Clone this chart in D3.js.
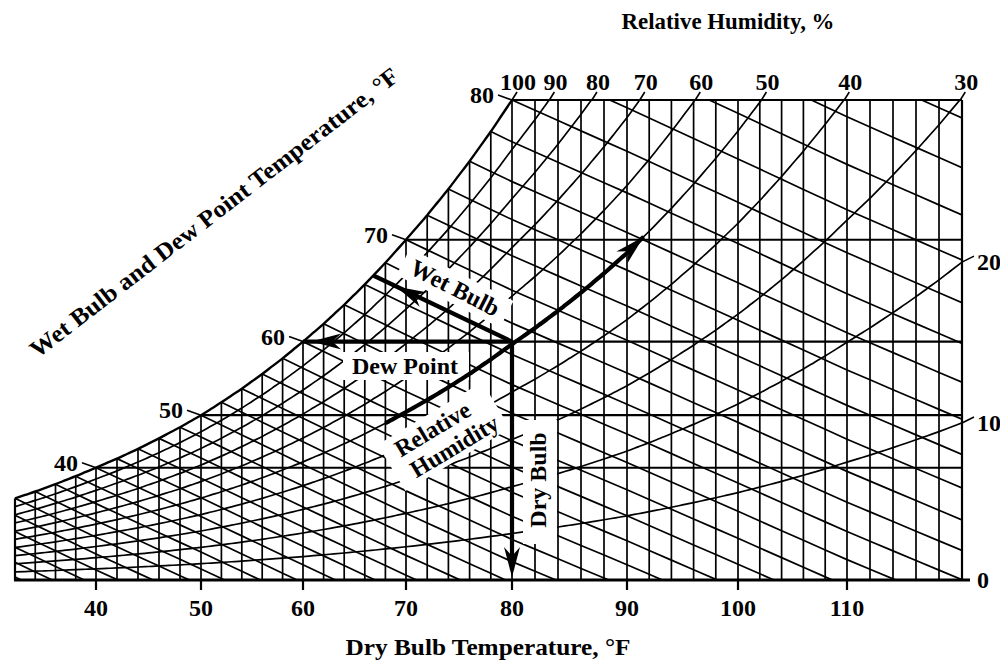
<!DOCTYPE html>
<html>
<head>
<meta charset="utf-8">
<script src="https://cdn.jsdelivr.net/npm/d3@7"></script>
<style>
    body { margin: 0; background: #fff; }
    text { font-family: "Liberation Serif", "Times New Roman", serif; font-weight: bold; fill: #000; }
</style>
</head>
<body>
<svg id="chart" width="1000" height="661"></svg>
<script>
// Saturation table: dry bulb (°F) and saturation vapour pressure (kPa), ice below 32 °F
const satTemps = [20, 22, 24, 26, 28, 30, 32, 34, 36, 38, 40, 42, 44, 46, 48, 50, 52, 54, 56, 58, 60,
    62, 64, 66, 68, 70, 72, 74, 76, 78, 80, 82, 84, 86, 88, 90, 92, 94, 96, 98, 100,
    102, 104, 106, 108, 110, 112, 114, 116, 118, 120];
const satPressure = [0.3481, 0.3831, 0.4212, 0.4628, 0.5082, 0.5575, 0.6109, 0.6620, 0.7167, 0.7755, 0.8384,
    0.9059, 0.9781, 1.0553, 1.1378, 1.2261, 1.3202, 1.4207, 1.5279, 1.6420, 1.7638,
    1.8933, 2.0311, 2.1777, 2.3335, 2.4989, 2.6745, 2.8609, 3.0584, 3.2680, 3.4899,
    3.7248, 3.9736, 4.2366, 4.5147, 4.8087, 5.1192, 5.4469, 5.7932, 6.1582, 6.5426,
    6.9482, 7.3752, 7.8244, 8.2976, 8.7953, 9.3187, 9.8692, 10.447, 11.054, 11.692];

const dryBulbTicks = [40, 50, 60, 70, 80, 90, 100, 110];
const dryBulbGrid = d3.range(34, 120, 2);
const wetBulbGrid = d3.range(20, 90, 2);
const dewPointLines = [40, 50, 60, 70];
const saturationLabels = [40, 50, 60, 70, 80];
const rhCurves = [0.1, 0.2, 0.3, 0.4, 0.5, 0.6, 0.7, 0.8, 0.9];
const rhTopLabels = [100, 90, 80, 70, 60, 50, 40, 30];
const rhRightLabels = [20, 10, 0];
const statePoint = { dryBulb: 80, dewPoint: 60, rh: 0.5 };

const svg = d3.select('#chart');

const pws = d3.scaleLinear().domain(satTemps).range(satPressure);
function humidityRatio(t, rh) {
    const p = rh * pws(t);
    return 0.622 * p / (101.325 - p);
}
function wetBulbRatio(tw, t) {
    return ((1093 - 0.556 * tw) * humidityRatio(tw, 1) - 0.240 * (t - tw)) / (1093 + 0.444 * t - tw);
}

const wTop = humidityRatio(80, 1);

const x = d3.scaleLinear()
    .domain([32, 40, 50, 60, 70, 80, 90, 100, 110, 120])
    .range([15, 96, 201, 303, 406, 512, 627, 738, 847, 962]);
const y = d3.scaleLinear().domain([0, wTop]).range([580, 100]);

const line = d3.line();
const smooth = d3.line().curve(d3.curveMonotoneX);

// plot area: under the saturation curve, inside the frame
const satPoints = d3.range(32, 80.01, 1).map(t => [x(t), y(humidityRatio(t, 1))]);
const areaPoints = satPoints.concat([[x(120), y(wTop)], [x(120), y(0)], [x(32), y(0)]]);

svg.append('defs').append('clipPath').attr('id', 'plot-area')
    .append('path').attr('d', line(areaPoints) + 'Z');

const grid = svg.append('g')
    .attr('clip-path', 'url(#plot-area)')
    .attr('fill', 'none')
    .attr('stroke', '#000')
    .attr('stroke-width', 1.7);

// dry bulb lines
grid.selectAll('.db').data(dryBulbGrid).enter().append('line')
    .attr('x1', d => x(d)).attr('x2', d => x(d))
    .attr('y1', y(0)).attr('y2', d => y(Math.min(humidityRatio(d, 1), wTop)));

// relative humidity curves
grid.selectAll('.rh').data(rhCurves).enter().append('path')
    .attr('d', rh => smooth(d3.range(32, 120.01, 1).map(t => [x(t), y(humidityRatio(t, rh))])));

// wet bulb lines
grid.selectAll('.wb').data(wetBulbGrid).enter().append('path')
    .attr('d', tw => line(d3.range(tw, 131, 2).map(t => [x(t), y(wetBulbRatio(tw, t))])));

// dew point lines
grid.selectAll('.dp').data(dewPointLines).enter().append('line')
    .attr('stroke-width', 2.2)
    .attr('x1', d => x(d)).attr('x2', x(120))
    .attr('y1', d => y(humidityRatio(d, 1))).attr('y2', d => y(humidityRatio(d, 1)));

// white boxes behind the annotations
const boxes = svg.append('g').attr('fill', '#fff');
boxes.append('rect').attr('transform', 'translate(455,288) rotate(27)')
    .attr('x', -58).attr('y', -15).attr('width', 116).attr('height', 30);
boxes.append('rect').attr('x', 343).attr('y', 352).attr('width', 126).attr('height', 28);
boxes.append('rect').attr('transform', 'translate(443,437) rotate(-31)')
    .attr('x', -60).attr('y', -27).attr('width', 122).attr('height', 54);
boxes.append('rect').attr('x', 523).attr('y', 420).attr('width', 34).attr('height', 124);

// frame
const frame = svg.append('g').attr('fill', 'none').attr('stroke', '#000');
frame.append('path').attr('stroke-width', 2.4).attr('d', smooth(satPoints));
frame.append('line').attr('stroke-width', 2.2)
    .attr('x1', x(80)).attr('x2', x(120)).attr('y1', y(wTop)).attr('y2', y(wTop));
frame.append('line').attr('stroke-width', 2.2)
    .attr('x1', x(120)).attr('x2', x(120)).attr('y1', y(wTop)).attr('y2', y(0));
frame.append('line').attr('stroke-width', 2.2)
    .attr('x1', x(32)).attr('x2', x(32)).attr('y1', y(humidityRatio(32, 1))).attr('y2', y(0));
frame.append('line').attr('stroke-width', 3)
    .attr('x1', x(32) - 1).attr('x2', x(120) + 8).attr('y1', y(0)).attr('y2', y(0));

// dry bulb axis
svg.selectAll('.tick').data(dryBulbTicks).enter().append('line')
    .attr('stroke', '#000').attr('stroke-width', 2.2)
    .attr('x1', d => x(d)).attr('x2', d => x(d))
    .attr('y1', y(0)).attr('y2', y(0) + 10);
svg.selectAll('.tick-label').data(dryBulbTicks).enter().append('text')
    .attr('x', d => x(d)).attr('y', y(0) + 36)
    .attr('text-anchor', 'middle').attr('font-size', 24)
    .text(d => d);
svg.append('text')
    .attr('x', 488).attr('y', 655)
    .attr('text-anchor', 'middle').attr('font-size', 24)
    .attr('textLength', 285).attr('lengthAdjust', 'spacingAndGlyphs')
    .text('Dry Bulb Temperature, °F');

// wet bulb / dew point labels on the saturation curve
saturationLabels.forEach(t => {
    const px = x(t), py = y(humidityRatio(t, 1));
    svg.append('line').attr('stroke', '#000').attr('stroke-width', 1.6)
        .attr('x1', px - 14).attr('y1', py - 5).attr('x2', px).attr('y2', py);
    svg.append('text').attr('x', px - 18).attr('y', py + 3)
        .attr('text-anchor', 'end').attr('font-size', 24).text(t);
});
svg.append('text')
    .attr('transform', 'translate(219,219) rotate(-37.6)')
    .attr('text-anchor', 'middle').attr('font-size', 24)
    .attr('textLength', 458).attr('lengthAdjust', 'spacingAndGlyphs')
    .text('Wet Bulb and Dew Point Temperature, °F');

// relative humidity labels
function topCrossing(rh) {
    let t = 80;
    while (t < 120 && humidityRatio(t, rh) < wTop) t += 0.05;
    return Math.min(t, 120);
}
rhTopLabels.forEach(v => {
    const px = x(topCrossing(v / 100)), py = y(wTop);
    svg.append('line').attr('stroke', '#000').attr('stroke-width', 1.6)
        .attr('x1', px).attr('y1', py).attr('x2', px + 5).attr('y2', py - 8);
    svg.append('text').attr('x', px + 6).attr('y', py - 10)
        .attr('text-anchor', 'middle').attr('font-size', 24).text(v);
});
rhRightLabels.forEach(v => {
    const py = y(humidityRatio(120, v / 100));
    if (v > 0) {
        svg.append('line').attr('stroke', '#000').attr('stroke-width', 1.6)
            .attr('x1', x(120)).attr('y1', py).attr('x2', x(120) + 12).attr('y2', py - 6);
    }
    svg.append('text').attr('x', x(120) + 15).attr('y', py + 8)
        .attr('font-size', 24).text(v);
});
svg.append('text')
    .attr('x', 728).attr('y', 29)
    .attr('text-anchor', 'middle').attr('font-size', 23)
    .attr('textLength', 213).attr('lengthAdjust', 'spacingAndGlyphs')
    .text('Relative Humidity, %');

// state point and process arrows
const wState = humidityRatio(statePoint.dewPoint, 1);
let lo = 40, hi = statePoint.dryBulb;
for (let i = 0; i < 40; i++) {
    const mid = (lo + hi) / 2;
    if (wetBulbRatio(mid, statePoint.dryBulb) > wState) hi = mid; else lo = mid;
}
const stateWetBulb = (lo + hi) / 2;
const sx = x(statePoint.dryBulb), sy = y(wState);

const arrows = svg.append('g').attr('stroke', '#000').attr('stroke-width', 4.2).attr('fill', 'none');
function arrowHead(tip, from) {
    const dx = tip[0] - from[0], dy = tip[1] - from[1];
    const len = Math.hypot(dx, dy), ux = dx / len, uy = dy / len;
    const L = 30, W = 8;
    const pts = [tip,
        [tip[0] - L * ux + W * uy, tip[1] - L * uy - W * ux],
        [tip[0] - 0.7 * L * ux, tip[1] - 0.7 * L * uy],
        [tip[0] - L * ux - W * uy, tip[1] - L * uy + W * ux]];
    svg.append('path').attr('fill', '#000').attr('d', line(pts) + 'Z');
}

// wet bulb
const wbSat = [x(stateWetBulb), y(humidityRatio(stateWetBulb, 1))];
arrows.append('path').attr('d', line([wbSat, [sx, sy]]));
arrowHead([x(stateWetBulb + 2.2), y(wetBulbRatio(stateWetBulb, stateWetBulb + 2.2))], [sx, sy]);
// dew point
arrows.append('path').attr('d', line([[x(statePoint.dewPoint), sy], [sx, sy]]));
arrowHead([x(statePoint.dewPoint + 0.8), sy], [sx, sy]);
// relative humidity
const rhPts = d3.range(68, 91.51, 0.5).map(t => [x(t), y(humidityRatio(t, statePoint.rh))]);
arrows.append('path').attr('d', smooth(rhPts));
arrowHead(rhPts[rhPts.length - 1], rhPts[rhPts.length - 5]);
// dry bulb
arrows.append('path').attr('d', line([[sx, sy], [sx, y(0) - 10]]));
arrowHead([sx, y(0) - 3], [sx, sy]);

// annotation texts
svg.append('text').attr('transform', 'translate(455,288) rotate(27)')
    .attr('text-anchor', 'middle').attr('dy', '0.33em').attr('font-size', 24).text('Wet Bulb');
svg.append('text').attr('x', 405).attr('y', 374)
    .attr('text-anchor', 'middle').attr('font-size', 24).text('Dew Point');
const rhNote = svg.append('g').attr('transform', 'translate(443,437) rotate(-31)');
rhNote.append('text').attr('x', -5).attr('y', -12).attr('dy', '0.33em')
    .attr('text-anchor', 'middle').attr('font-size', 24).text('Relative');
rhNote.append('text').attr('x', 5).attr('y', 14).attr('dy', '0.33em')
    .attr('text-anchor', 'middle').attr('font-size', 24).text('Humidity');
svg.append('text').attr('transform', 'translate(538,480) rotate(-90)')
    .attr('text-anchor', 'middle').attr('dy', '0.33em').attr('font-size', 24).text('Dry Bulb');
</script>
</body>
</html>
